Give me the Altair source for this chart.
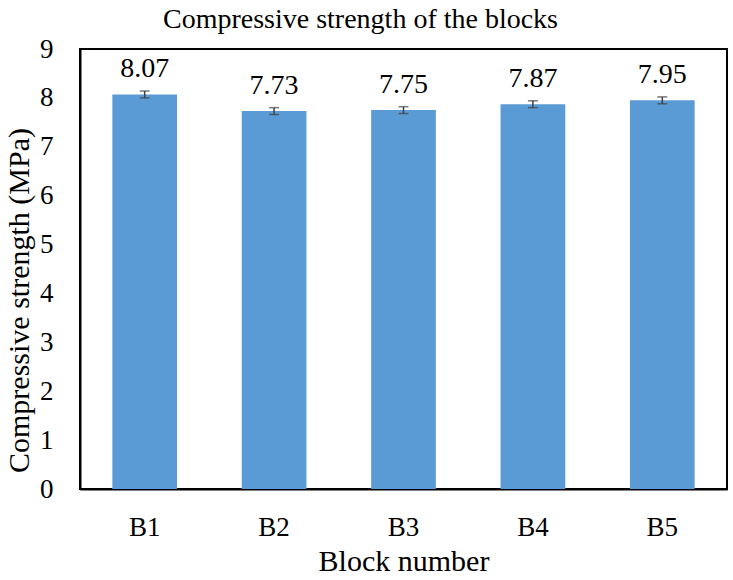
import altair as alt
import pandas as pd

blocks = ["B1", "B2", "B3", "B4", "B5"]
strength = [8.07, 7.73, 7.75, 7.87, 7.95]
error = [0.07, 0.07, 0.07, 0.07, 0.07]
label_text = ["8.07", "7.73", "7.75", "7.87", "7.95"]

df = pd.DataFrame({
    "block": blocks,
    "strength": strength,
    "lo": [s - e for s, e in zip(strength, error)],
    "hi": [s + e for s, e in zip(strength, error)],
    "label": label_text,
})

FONT = "Liberation Serif"

x = alt.X("block:N", sort=blocks,
          scale=alt.Scale(paddingInner=0.5, paddingOuter=0.25),
          axis=alt.Axis(title="Block number", labelAngle=0, ticks=False, tickSize=0,
                        labelFont=FONT, titleFont=FONT,
                        labelFontSize=27, labelPadding=46, labelBaseline="alphabetic",
                        titleFontSize=30, titleY=81, titleBaseline="alphabetic",
                        labelColor="black", titleColor="black", titleFontWeight="normal",
                        domainColor="black", domainWidth=2))
y = alt.Y("strength:Q",
          scale=alt.Scale(domain=[0, 9], nice=False),
          axis=alt.Axis(title="Compressive strength (MPa)", values=list(range(10)),
                        grid=False, ticks=False, tickSize=0,
                        labelFont=FONT, titleFont=FONT,
                        labelFontSize=27, labelPadding=27,
                        titleFontSize=30, titleX=-52, titleY=251, titleBaseline="alphabetic",
                        labelColor="black", titleColor="black", titleFontWeight="normal",
                        domainColor="black", domainWidth=2))

base = alt.Chart(df)

bars = base.mark_bar(color="#5B9BD5").encode(x=x, y=y)
rule = base.mark_rule(color="#404040", strokeWidth=1.5).encode(
    x=alt.X("block:N", sort=blocks), y="lo:Q", y2="hi:Q")
cap_lo = base.mark_tick(color="#404040", size=10, thickness=1.5, orient="horizontal").encode(
    x=alt.X("block:N", sort=blocks), y="lo:Q")
cap_hi = base.mark_tick(color="#404040", size=10, thickness=1.5, orient="horizontal").encode(
    x=alt.X("block:N", sort=blocks), y="hi:Q")
labels = base.mark_text(font=FONT, fontSize=28, dy=-17, baseline="alphabetic",
                        color="black").encode(
    x=alt.X("block:N", sort=blocks), y="strength:Q", text="label:N")

chart = alt.layer(bars, rule, cap_lo, cap_hi, labels).properties(
    width=647, height=440,
    title=alt.TitleParams("Compressive strength of the blocks", fontSize=28, font=FONT,
                          fontWeight="normal", color="black", anchor="middle",
                          baseline="alphabetic", offset=-21, dx=-43),
    autosize=alt.AutoSizeParams(type="none"),
    padding={"left": 80, "top": 49, "right": 6, "bottom": 91},
).configure(font=FONT).configure_view(
    stroke="black", strokeWidth=2
).configure_axis(labelFont=FONT, titleFont=FONT)

chart.save("out.html", embed_options={"renderer": "svg", "actions": False})
